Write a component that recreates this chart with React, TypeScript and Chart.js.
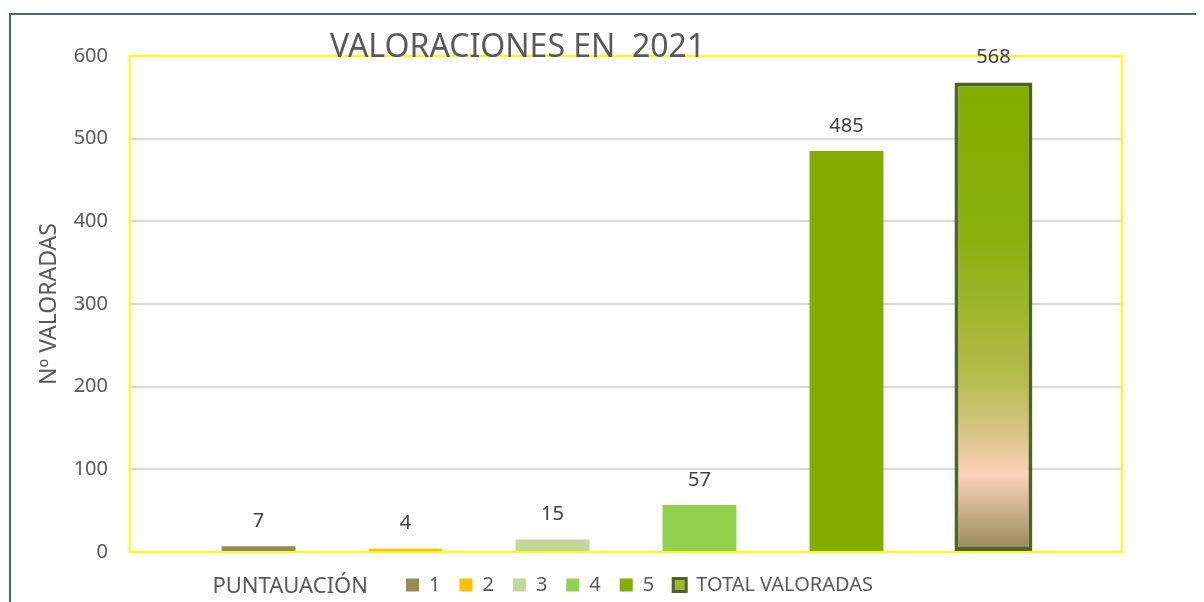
import React, { useEffect, useRef } from 'react';
import { Chart, registerables } from 'chart.js';

Chart.register(...registerables);

// ---- data ----
const chartTitle = 'VALORACIONES EN  2021';
const yAxisTitle = 'Nº VALORADAS';
const xAxisTitle = 'PUNTAUACIÓN';
const seriesNames = ['1', '2', '3', '4', '5', 'TOTAL VALORADAS'];
const seriesValues = [7, 4, 15, 57, 485, 568];
const yMin = 0;
const yMax = 600;
const yStep = 100;

// ---- styles ----
const FONT = '"Noto Sans", sans-serif';
const seriesColors = ['#978b55', '#ffc000', '#c4d79b', '#92d050', '#84ad00', '#84ad00'];
const totalBorder = '#4f6228';
const totalStops: [number, string][] = [
  [0, '#84ad00'],
  [0.33, '#89b00c'],
  [0.63, '#b5bb4d'],
  [0.76, '#ddc690'],
  [0.835, '#fdd1ba'],
  [0.91, '#cdb18c'],
  [1, '#948656'],
];

const W = 1188;
const H = 594;

export default function App() {
  const canvasRef = useRef<HTMLCanvasElement | null>(null);

  useEffect(() => {
    const canvas = canvasRef.current;
    if (!canvas) return;
    Chart.defaults.font.family = FONT;

    const totalFill = (ctx: any) => {
      const chart = ctx.chart;
      const area = chart.chartArea;
      const ys = chart.scales && chart.scales.y;
      if (!area || !ys) return seriesColors[5];
      const top = ys.getPixelForValue(seriesValues[5]);
      const bottom = ys.getPixelForValue(0);
      const g = chart.ctx.createLinearGradient(0, top, 0, bottom);
      totalStops.forEach(([o, c]) => g.addColorStop(o, c));
      return g;
    };

    const datasets = seriesNames.map((name, i) => {
      const isTotal = i === seriesNames.length - 1;
      return {
        label: name,
        data: [seriesValues[i]],
        backgroundColor: isTotal ? totalFill : seriesColors[i],
        borderColor: isTotal ? totalBorder : seriesColors[i],
        borderWidth: isTotal ? 4 : 0,
        borderSkipped: false as any,
        categoryPercentage: 0.889,
        barPercentage: isTotal ? 0.53 : 0.503,
      };
    });

    const framePlugin = {
      id: 'frameAndTexts',
      beforeDraw(chart: any) {
        const c = chart.ctx;
        c.save();
        c.fillStyle = '#41706a';
        c.fillRect(1, 5, chart.width, 2);
        c.fillRect(1, 5, 2, chart.height);
        c.restore();
      },
      beforeDatasetsDraw(chart: any) {
        const a = chart.chartArea;
        const c = chart.ctx;
        c.save();
        c.strokeStyle = '#ffff00';
        c.lineWidth = 2;
        c.strokeRect(a.left, a.top, a.right - a.left, a.bottom - a.top);
        c.restore();
      },
      afterLayout(chart: any) {
        const lg = chart.legend;
        if (!lg) return;
        const w = lg.right - lg.left;
        const h = lg.bottom - lg.top;
        lg.left = 379;
        lg.right = 379 + w;
        lg.top = 548;
        lg.bottom = 548 + h;
      },
      afterDraw(chart: any) {
        const c = chart.ctx;
        c.save();
        // data labels
        c.fillStyle = '#404040';
        c.font = `20px ${FONT}`;
        c.textAlign = 'center';
        c.textBaseline = 'middle';
        seriesValues.forEach((v, i) => {
          const el = chart.getDatasetMeta(i).data[0];
          if (el) c.fillText(String(v), el.x, el.y - 25);
        });
        // chart title
        c.fillStyle = '#595959';
        c.font = `32px ${FONT}`;
        c.textAlign = 'left';
        c.textBaseline = 'alphabetic';
        c.fillText(chartTitle, 322, 49);
        // category axis title next to legend
        const hb = chart.legend && chart.legend.legendHitBoxes && chart.legend.legendHitBoxes[0];
        if (hb) {
          c.font = `22px ${FONT}`;
          c.textAlign = 'right';
          c.textBaseline = 'middle';
          c.fillText(xAxisTitle, hb.left - 38, hb.top + hb.height / 2 + 2);
        }
        c.restore();
      },
    };

    const chart = new Chart(canvas, {
      type: 'bar',
      data: { labels: [''], datasets: datasets as any },
      options: {
        animation: false,
        responsive: true,
        maintainAspectRatio: false,
        layout: { padding: { left: 0, right: 74, top: 48, bottom: 0 } },
        plugins: {
          tooltip: { enabled: false },
          title: { display: false },
          legend: {
            display: true,
            position: 'bottom',
            align: 'start',
            labels: {
              boxWidth: 13,
              boxHeight: 13,
              padding: 19,
              color: '#595959',
              font: { family: FONT, size: 20 },
              generateLabels: (ch: any) =>
                seriesNames.map((name, i) => {
                  const isTotal = i === seriesNames.length - 1;
                  return {
                    text: name,
                    fillStyle: isTotal ? '#9ab833' : seriesColors[i],
                    strokeStyle: isTotal ? totalBorder : seriesColors[i],
                    lineWidth: isTotal ? 3 : 0,
                    hidden: false,
                    datasetIndex: i,
                    fontColor: '#595959',
                  };
                }),
            },
          },
        },
        scales: {
          x: {
            ticks: { display: false },
            grid: { display: false },
            border: { display: false },
            afterFit: (s: any) => {
              s.height = 1;
            },
          },
          y: {
            min: yMin,
            max: yMax,
            ticks: {
              stepSize: yStep,
              color: '#595959',
              font: { family: FONT, size: 20 },
              padding: 22,
            },
            grid: { color: '#d9d9d9', lineWidth: 2, drawTicks: false },
            border: { display: false },
            title: {
              display: true,
              text: yAxisTitle,
              color: '#595959',
              font: { family: FONT, size: 23 },
              padding: { top: 28, bottom: 0 },
            },
            afterFit: (s: any) => {
              s.width = 122;
            },
          },
        },
      },
      plugins: [framePlugin],
    });

    return () => chart.destroy();
  }, []);

  return (
    <div style={{ position: 'relative', width: W, height: H }}>
      <canvas ref={canvasRef} />
    </div>
  );
}
